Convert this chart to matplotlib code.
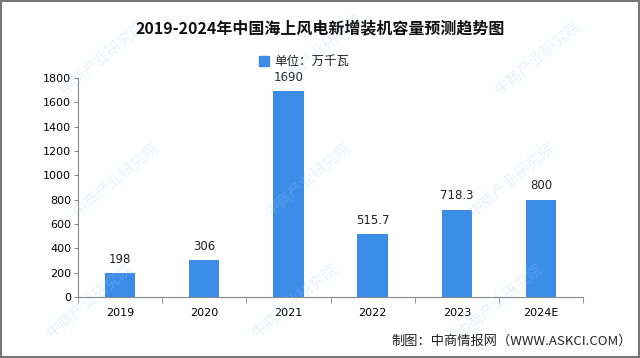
import numpy as np
import matplotlib
matplotlib.use("Agg")
import matplotlib.pyplot as plt
from matplotlib.patches import Rectangle

plt.rcParams['font.family'] = ['Noto Sans CJK SC', 'DejaVu Sans']

years = ['2019', '2020', '2021', '2022', '2023', '2024E']
capacity = [198, 306, 1690, 515.7, 718.3, 800]
labels = ['198', '306', '1690', '515.7', '718.3', '800']
bar_color = '#3b8de8'

fig = plt.figure(figsize=(6.4, 3.58), dpi=100)
ax = fig.add_axes([0.122, 0.170, 0.789, 0.612])

x = np.arange(len(years))
ax.bar(x, capacity, width=0.36, color=bar_color, zorder=3)
for xi, v, s in zip(x, capacity, labels):
    ax.text(xi, v + 60, s, ha='center', va='bottom', fontsize=8.5,
            family='DejaVu Sans', color='#222222')

ax.set_xlim(-0.5, len(years) - 0.5)
ax.set_ylim(0, 1800)
ax.set_yticks(range(0, 1801, 200))
ax.tick_params(axis='y', labelsize=8, length=3, color='#888888', pad=2)
ax.set_xticks(x)
ax.set_xticklabels(years, fontsize=8)
ax.set_xticks(np.arange(-0.5, len(years), 1), minor=True)
ax.tick_params(axis='x', which='major', length=0, pad=8)
ax.tick_params(axis='x', which='minor', length=4, color='#888888')
for lab in ax.get_yticklabels() + ax.get_xticklabels():
    lab.set_family('DejaVu Sans')
for side in ['top', 'right']:
    ax.spines[side].set_visible(False)
ax.spines['left'].set_color('#888888')
ax.spines['bottom'].set_color('#888888')

# faint watermarks
for wx, wy in [(0.14, 0.16), (0.46, 0.16), (0.78, 0.16), (0.18, 0.50), (0.48, 0.50),
               (0.80, 0.50), (0.16, 0.84), (0.50, 0.86), (0.84, 0.84)]:
    fig.text(wx, wy, '中商产业研究院', fontsize=11, color='#a9c8ea', alpha=0.25,
             rotation=40, ha='center', va='center', zorder=0)

fig.text(0.5, 0.922, '2019-2024年中国海上风电新增装机容量预测趋势图', ha='center',
         va='center', fontsize=11.5, fontweight='bold', color='#111111')
fig.patches.append(Rectangle((0.405, 0.815), 0.016, 0.028, transform=fig.transFigure,
                             color=bar_color, figure=fig))
fig.text(0.428, 0.830, '单位：万千瓦', ha='left', va='center', fontsize=9, color='#222222')
fig.text(0.987, 0.048, '制图：中商情报网（WWW.ASKCI.COM）', ha='right', va='center',
         fontsize=9.5, color='#222222')

fig.patches.append(Rectangle((0.002, 0.003), 0.996, 0.994, transform=fig.transFigure,
                             fill=False, edgecolor='#777777', linewidth=1.5, figure=fig))

fig.savefig('out.png', dpi=100)
